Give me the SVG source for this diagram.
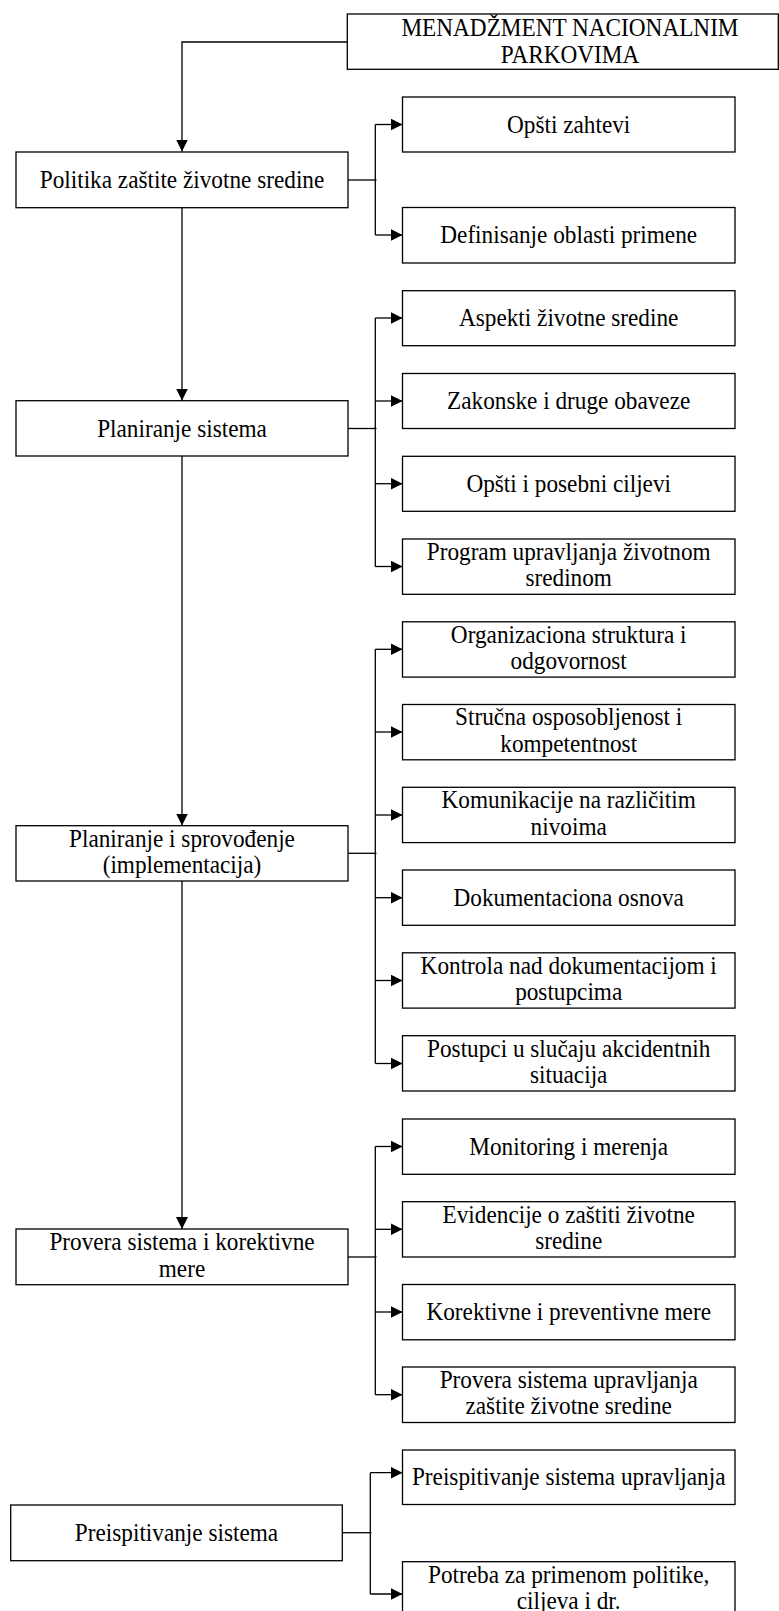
<svg xmlns="http://www.w3.org/2000/svg" width="779" height="1611" viewBox="0 0 779 1611">
<style>
.box{fill:#fff;stroke:#000;stroke-width:1.3}
.t{font-family:"Liberation Serif","Times New Roman",serif;font-size:25px;fill:#000;text-anchor:middle;transform-box:fill-box;transform-origin:center;transform:scaleX(0.93)}
.c{fill:none;stroke:#000;stroke-width:1.3}
.a{fill:none;stroke:#000;stroke-width:1.3;marker-end:url(#arr)}
</style>
<defs>
<marker id="arr" markerUnits="userSpaceOnUse" markerWidth="12" markerHeight="12" viewBox="0 0 11 11" refX="11" refY="5.5" orient="auto">
<path d="M0,0 L11,5.5 L0,11 Z" fill="#000"/>
</marker>
</defs>
<rect width="779" height="1611" fill="#fff"/>

<g id="connectors">
<path class="a" d="M347.3,42 H182 V151.5"/>
<path class="a" d="M182,207.7 V400.5"/>
<path class="a" d="M182,456 V825.5"/>
<path class="a" d="M182,881 V1229"/>
<path class="c" d="M348,180 H376.5"/>
<path class="c" d="M375.3,124.5 V235"/>
<path class="a" d="M375.3,124.5 H402.5"/>
<path class="a" d="M375.3,235 H402.5"/>
<path class="c" d="M348,428.5 H376.5"/>
<path class="c" d="M375.3,318 V566.5"/>
<path class="a" d="M375.3,318 H402.5"/>
<path class="a" d="M375.3,401 H402.5"/>
<path class="a" d="M375.3,483.7 H402.5"/>
<path class="a" d="M375.3,566.5 H402.5"/>
<path class="c" d="M348,853.3 H376.5"/>
<path class="c" d="M375.3,649.3 V1063.5"/>
<path class="a" d="M375.3,649.3 H402.5"/>
<path class="a" d="M375.3,732 H402.5"/>
<path class="a" d="M375.3,815 H402.5"/>
<path class="a" d="M375.3,897.7 H402.5"/>
<path class="a" d="M375.3,980.5 H402.5"/>
<path class="a" d="M375.3,1063.5 H402.5"/>
<path class="c" d="M348,1257 H376.5"/>
<path class="c" d="M375.3,1146.5 V1394.7"/>
<path class="a" d="M375.3,1146.5 H402.5"/>
<path class="a" d="M375.3,1229.3 H402.5"/>
<path class="a" d="M375.3,1312 H402.5"/>
<path class="a" d="M375.3,1394.7 H402.5"/>
<path class="c" d="M342.3,1532.7 H371.5"/>
<path class="c" d="M370.3,1472.7 V1594"/>
<path class="a" d="M370.3,1472.7 H402.5"/>
<path class="a" d="M370.3,1594 H402.5"/>
</g>

<g id="n-root"><rect class="box" x="347.3" y="14" width="431" height="55.3"/>
<text class="t" x="570" y="36.5">MENADŽMENT NACIONALNIM</text>
<text class="t" x="570" y="63">PARKOVIMA</text></g>

<g id="n-politika"><rect class="box" x="16" y="152" width="332" height="55.7"/>
<text class="t" x="182" y="188.3">Politika zaštite životne sredine</text></g>
<g id="n-planiranje"><rect class="box" x="16" y="400.7" width="332" height="55.3"/>
<text class="t" x="182" y="436.8">Planiranje sistema</text></g>
<g id="n-sprovodjenje"><rect class="box" x="16" y="825.7" width="332" height="55.3"/>
<text class="t" x="182" y="847">Planiranje i sprovođenje</text>
<text class="t" x="182" y="873.5">(implementacija)</text></g>
<g id="n-provera"><rect class="box" x="16" y="1229" width="332" height="55.7"/>
<text class="t" x="182" y="1250.5">Provera sistema i korektivne</text>
<text class="t" x="182" y="1277">mere</text></g>
<g id="n-preispitivanje"><rect class="box" x="10.7" y="1505" width="331.6" height="55.7"/>
<text class="t" x="176.5" y="1540.8">Preispitivanje sistema</text></g>

<g id="n-r1"><rect class="box" x="402.5" y="97" width="332.5" height="55"/>
<text class="t" x="568.7" y="132.8">Opšti zahtevi</text></g>
<g id="n-r2"><rect class="box" x="402.5" y="207.5" width="332.5" height="55.5"/>
<text class="t" x="568.7" y="243.3">Definisanje oblasti primene</text></g>
<g id="n-r3"><rect class="box" x="402.5" y="290.7" width="332.5" height="55"/>
<text class="t" x="568.7" y="326.3">Aspekti životne sredine</text></g>
<g id="n-r4"><rect class="box" x="402.5" y="373.5" width="332.5" height="55"/>
<text class="t" x="568.7" y="409.3">Zakonske i druge obaveze</text></g>
<g id="n-r5"><rect class="box" x="402.5" y="456.3" width="332.5" height="55"/>
<text class="t" x="568.7" y="491.8">Opšti i posebni ciljevi</text></g>
<g id="n-r6"><rect class="box" x="402.5" y="539" width="332.5" height="55.3"/>
<text class="t" x="568.7" y="560">Program upravljanja životnom</text>
<text class="t" x="568.7" y="586.5">sredinom</text></g>
<g id="n-r7"><rect class="box" x="402.5" y="621.8" width="332.5" height="55.3"/>
<text class="t" x="568.7" y="643">Organizaciona struktura i</text>
<text class="t" x="568.7" y="669.5">odgovornost</text></g>
<g id="n-r8"><rect class="box" x="402.5" y="704.5" width="332.5" height="55.3"/>
<text class="t" x="568.7" y="725.5">Stručna osposobljenost i</text>
<text class="t" x="568.7" y="752">kompetentnost</text></g>
<g id="n-r9"><rect class="box" x="402.5" y="787.3" width="332.5" height="55.3"/>
<text class="t" x="568.7" y="808.5">Komunikacije na različitim</text>
<text class="t" x="568.7" y="835">nivoima</text></g>
<g id="n-r10"><rect class="box" x="402.5" y="870" width="332.5" height="55.3"/>
<text class="t" x="568.7" y="905.8">Dokumentaciona osnova</text></g>
<g id="n-r11"><rect class="box" x="402.5" y="952.8" width="332.5" height="55.3"/>
<text class="t" x="568.7" y="974">Kontrola nad dokumentacijom i</text>
<text class="t" x="568.7" y="1000.5">postupcima</text></g>
<g id="n-r12"><rect class="box" x="402.5" y="1035.7" width="332.5" height="55.3"/>
<text class="t" x="568.7" y="1057">Postupci u slučaju akcidentnih</text>
<text class="t" x="568.7" y="1083.5">situacija</text></g>
<g id="n-r13"><rect class="box" x="402.5" y="1119" width="332.5" height="55.3"/>
<text class="t" x="568.7" y="1154.8">Monitoring i merenja</text></g>
<g id="n-r14"><rect class="box" x="402.5" y="1201.7" width="332.5" height="55.3"/>
<text class="t" x="568.7" y="1223">Evidencije o zaštiti životne</text>
<text class="t" x="568.7" y="1249.5">sredine</text></g>
<g id="n-r15"><rect class="box" x="402.5" y="1284.5" width="332.5" height="55.3"/>
<text class="t" x="568.7" y="1320.3">Korektivne i preventivne mere</text></g>
<g id="n-r16"><rect class="box" x="402.5" y="1367" width="332.5" height="55.5"/>
<text class="t" x="568.7" y="1388">Provera sistema upravljanja</text>
<text class="t" x="568.7" y="1414.5">zaštite životne sredine</text></g>
<g id="n-r17"><rect class="box" x="402.5" y="1450" width="332.5" height="54.5"/>
<text class="t" x="568.7" y="1485.3">Preispitivanje sistema upravljanja</text></g>
<g id="n-r18"><rect class="box" x="402.5" y="1561.7" width="332.5" height="56"/>
<text class="t" x="568.7" y="1583.5">Potreba za primenom politike,</text>
<text class="t" x="568.7" y="1609">ciljeva i dr.</text></g>
</svg>
